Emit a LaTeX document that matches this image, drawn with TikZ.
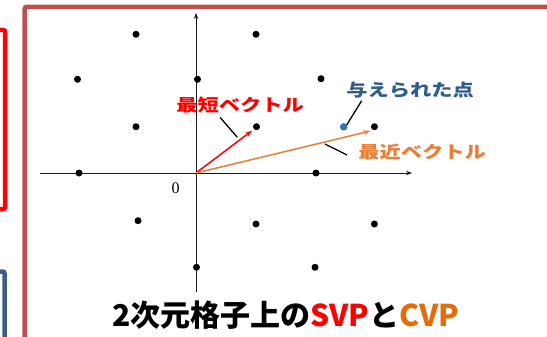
\documentclass[tikz,border=0pt]{standalone}
\usepackage{fontspec}
\usetikzlibrary{arrows.meta}
\setmainfont{Noto Sans CJK JP}
\newfontfamily\lblfont[FakeStretch=1.25]{Noto Sans CJK JP}
\newfontfamily\ttlfont{Noto Sans CJK JP}
\newfontfamily\zerofont{Liberation Serif}
\definecolor{framered}{HTML}{C0504D}
\definecolor{boxblue}{HTML}{3B5E8C}
\definecolor{vecorange}{HTML}{ED7D31}
\definecolor{cvporange}{HTML}{E46C0A}
\definecolor{lblblue}{HTML}{2F5C8A}
\definecolor{ptblue}{HTML}{2E75B6}
\begin{document}
\begin{tikzpicture}[x=1pt,y=-1pt,
  dot/.style={circle,fill=black,inner sep=0pt,minimum size=7pt},
  lbl/.style={font=\lblfont\bfseries\fontsize{17}{17}\selectfont,inner sep=0pt},
  leader/.style={draw=black,line width=1.3pt},
  axis/.style={line width=1pt,draw=black!90,-{Stealth[length=6pt,width=4.5pt]}},
  vec/.style={line width=1.5pt,-{Stealth[length=7pt,width=5pt]}},
  boxline/.style={line width=4.5pt,rounded corners=2pt}
]
\useasboundingbox (0,0) rectangle (547,337);
\clip (0,0) rectangle (547,337);
% side boxes and frame
\draw[boxline,draw=red] (-30,30) rectangle (5.2,209);
\draw[boxline,draw=boxblue] (-30,271.5) rectangle (4.5,380);
\draw[boxline,draw=framered] (24.7,6.8) rectangle (600,380);
% axes
\coordinate (O) at (196,173);
\coordinate (xl) at (40,173);
\coordinate (xr) at (412,173);
\coordinate (yb) at (196,292);
\coordinate (yt) at (196,13);
\draw[axis] (xl) -- (xr);
\draw[axis] (yb) -- (yt);
\node[font=\zerofont\fontsize{16}{16}\selectfont,inner sep=0pt] (zero) at (175.5,188.5) {0};
% lattice points
\node[dot] (d1) at (136,34.3) {};
\node[dot] (d2) at (256,34.3) {};
\node[dot] (d3) at (77.5,79.3) {};
\node[dot] (d4) at (197.5,79.3) {};
\node[dot] (d5) at (321,78.7) {};
\node[dot] (d6) at (136,126.7) {};
\node[dot] (d7) at (256.5,126.7) {};
\node[dot] (d8) at (374.4,126.7) {};
\node[dot] (d9) at (79,173) {};
\node[dot] (d10) at (316,173) {};
\node[dot] (d11) at (138,220.7) {};
\node[dot] (d12) at (256,224) {};
\node[dot] (d13) at (374.4,224) {};
\node[dot] (d14) at (196.5,267.3) {};
\node[dot] (d15) at (315,267.3) {};
\node[dot,fill=ptblue,minimum size=7.5pt] (P) at (343.7,126.9) {};
% vectors
\coordinate (svtip) at (252,130.7);
\coordinate (cvtip) at (370.5,131);
\draw[vec,draw=red,fill=red] (O) -- (svtip);
\draw[vec,draw=vecorange,fill=vecorange] (O) -- (cvtip);
% labels
\node[lbl,text=red] (svl) at (240,105.5) {最短ベクトル};
\node[lbl,text=lblblue] (ptl) at (410,90.5) {与えられた点};
\node[lbl,text=vecorange] (cvl) at (422,152.5) {最近ベクトル};
% leader lines
\coordinate (s1) at (220,117.3);
\coordinate (s2) at (237.3,137.3);
\coordinate (p1) at (361.7,100.7);
\coordinate (p2) at (346.7,125);
\coordinate (c1) at (325,144);
\coordinate (c2) at (347,155);
\draw[leader] (s1) -- (s2);
\draw[leader] (p1) -- (p2);
\draw[leader] (c1) -- (c2);
% title
\node[font=\ttlfont\bfseries\fontsize{30}{30}\selectfont,inner sep=0pt] (title) at (285.5,315) {2次元格子上の\textcolor{red}{SVP}と\textcolor{cvporange}{CVP}};
\end{tikzpicture}
\end{document}
